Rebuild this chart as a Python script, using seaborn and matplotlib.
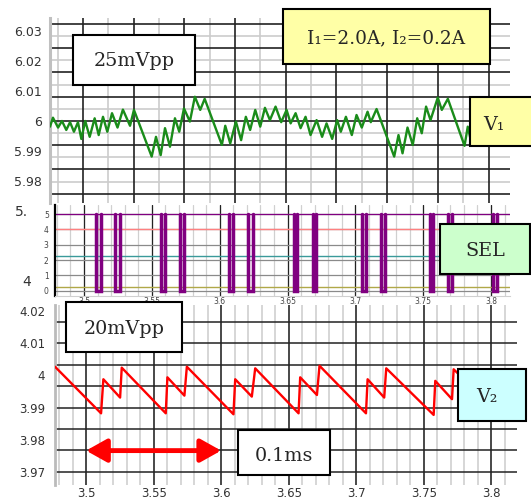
import numpy as np
import pandas as pd
import seaborn as sns
import matplotlib.pyplot as plt
from matplotlib.patches import Rectangle

# ------------------------------
# data (time in ms)
# ------------------------------
v1_t = [3.4770, 3.4792, 3.4830, 3.4859, 3.4891, 3.4919, 3.4948, 3.4978, 3.5003, 3.5032,
        3.5065, 3.5102, 3.5132, 3.5164, 3.5196, 3.5231, 3.5272, 3.5312, 3.5365, 3.5394,
        3.5526, 3.5558, 3.5593, 3.5625, 3.5662, 3.5699, 3.5731, 3.5766, 3.5810, 3.5847,
        3.5887, 3.5920, 3.6048, 3.6073, 3.6110, 3.6152, 3.6191, 3.6226, 3.6258, 3.6296,
        3.6333, 3.6368, 3.6405, 3.6447, 3.6489, 3.6529, 3.6559, 3.6596, 3.6633, 3.6670,
        3.6707, 3.6752, 3.6793, 3.6826, 3.6868, 3.6905, 3.6932, 3.6970, 3.7014, 3.7049,
        3.7088, 3.7131, 3.7155, 3.7198, 3.7329, 3.7361, 3.7391, 3.7428, 3.7467, 3.7500,
        3.7534, 3.7566, 3.7599, 3.7653, 3.7683, 3.7728, 3.7852, 3.7876, 3.7906]
v1_v = [5.9981, 6.0011, 5.9978, 6.0000, 5.9970, 5.9996, 5.9964, 5.9996, 5.9940, 6.0000,
        5.9947, 6.0009, 5.9953, 6.0014, 5.9964, 6.0026, 5.9978, 6.0038, 5.9984, 6.0037,
        5.9881, 5.9947, 5.9886, 5.9976, 5.9914, 6.0009, 5.9964, 6.0042, 5.9998, 6.0081,
        6.0037, 6.0074, 5.9920, 5.9984, 5.9925, 5.9998, 5.9936, 6.0014, 5.9970, 6.0037,
        5.9981, 6.0044, 6.0003, 6.0048, 5.9996, 6.0037, 5.9992, 6.0026, 5.9976, 6.0014,
        5.9953, 6.0003, 5.9947, 5.9992, 5.9940, 6.0003, 5.9964, 6.0014, 5.9953, 6.0020,
        5.9978, 6.0031, 5.9996, 6.0040, 5.9881, 5.9953, 5.9892, 5.9978, 5.9920, 6.0009,
        5.9959, 6.0048, 6.0003, 6.0078, 6.0037, 6.0074, 5.9917, 5.9981, 5.9920]

v2_t = [3.4770, 3.5111, 3.5128, 3.5252, 3.5264, 3.5590, 3.5602, 3.5728, 3.5746, 3.6091,
        3.6104, 3.6227, 3.6252, 3.6573, 3.6585, 3.6709, 3.6728, 3.7072, 3.7084, 3.7207,
        3.7222, 3.7573, 3.7585, 3.7709, 3.7721, 3.8060]
v2_v = [4.0027, 3.9882, 3.9988, 3.9931, 4.0024, 3.9882, 3.9994, 3.9937, 4.0027, 3.9879,
        3.9988, 3.9934, 4.0022, 3.9882, 3.9994, 3.9939, 4.0030, 3.9882, 3.9988, 3.9931,
        4.0022, 3.9877, 3.9983, 3.9926, 4.0019, 3.9880]

# SEL drops from 5 to 0 between start and end
sel_start = [3.5089, 3.5229, 3.5569, 3.5710, 3.6072, 3.6205, 3.6545, 3.6685, 3.7047,
             3.7188, 3.7550, 3.7683, 3.8016]
sel_end = [3.5123, 3.5266, 3.5599, 3.5739, 3.6101, 3.6242, 3.6567, 3.6707, 3.7076,
           3.7217, 3.7572, 3.7712, 3.8045]
sel_high = 5
sel_low = 0

# the other (flat) channels in the SEL window
chan_level = [4, 2.27, 0.22]
chan_color = ['#ff8080', '#3a9a9a', '#b0a848']

v1_ticks = [6.03, 6.02, 6.01, 6.0, 5.99, 5.98]
v1_ticklabels = ['6.03', '6.02', '6.01', '6', '5.99', '5.98']
v2_ticks = [4.02, 4.01, 4.0, 3.99, 3.98, 3.97]
v2_ticklabels = ['4.02', '4.01', '4', '3.99', '3.98', '3.97']
t_ticks = [3.5, 3.55, 3.6, 3.65, 3.7, 3.75, 3.8]
t_ticklabels = ['3.5', '3.55', '3.6', '3.65', '3.7', '3.75', '3.8']
sel_ticks = [0, 1, 2, 3, 4, 5]
arrow_span = [3.5, 3.6]
arrow_level = 3.9766

# ------------------------------
# figure
# ------------------------------
sns.set_style("white")
plt.rcParams['font.family'] = ['DejaVu Sans']

W, H = 531, 504
fig = plt.figure(figsize=(W / 100, H / 100), dpi=100)


def px_axes(x0, y0, x1, y1):
    return fig.add_axes([x0 / W, 1 - y1 / H, (x1 - x0) / W, (y1 - y0) / H])


ax1 = px_axes(50, 18, 510, 203)
ax2 = px_axes(55, 205, 510, 296)
ax3 = px_axes(55, 305, 517, 485)

DARK = '#222222'
LIGHT = '#cccccc'

# --- top panel: V1 ---
ax1.set_xlim(3.477, 3.819)
ax1.set_ylim(5.9726, 6.0344)
gx = 3.5015 + 0.0377 * np.arange(-1, 9)
for x in gx:
    ax1.axvline(x, color=DARK, lw=1.2, zorder=1)
    ax1.axvline(x + 0.0377 / 2, color=LIGHT, lw=1.2, zorder=0)
gy = 6.0 + 0.0081 * np.arange(-4, 5)
for y in gy:
    ax1.axhline(y, color=DARK, lw=1.2, zorder=1)
    ax1.axhline(y + 0.0081 / 2, color=LIGHT, lw=1.2, zorder=0)
sns.lineplot(x=v1_t, y=v1_v, ax=ax1, color='#1a8c1a', lw=1.7, sort=False,
             estimator=None, zorder=3)
ax1.set_yticks(v1_ticks, v1_ticklabels)
ax1.set_xticks([])
ax1.tick_params(axis='y', length=0, pad=6, labelsize=9, labelcolor='#333333')
for s in ['top', 'right', 'bottom']:
    ax1.spines[s].set_visible(False)
ax1.spines['left'].set_color('#c0c0c0')
ax1.spines['left'].set_linewidth(2.2)

# --- middle panel: SEL ---
ax2.set_xlim(3.4786, 3.814)
ax2.set_ylim(-0.35, 5.6)
for x in np.arange(3.48, 3.815, 0.01):
    ax2.axvline(x, color='#d0d0d0', lw=0.9, zorder=0)
for x in t_ticks:
    ax2.axvline(x, color=DARK, lw=0.9, zorder=1)
for y in sel_ticks:
    ax2.axhline(y, color='#8a8a8a', lw=0.9, zorder=1)
for lev, c in zip(chan_level, chan_color):
    ax2.axhline(lev, color=c, lw=1.0, zorder=2)
ax2.axhline(sel_high, color='#800080', lw=0.9, zorder=2)
for s, e in zip(sel_start, sel_end):
    ax2.plot([s, s, e, e], [sel_high, sel_low, sel_low, sel_high],
             color='#800080', lw=2.5, zorder=3, solid_joinstyle='miter')
ax2.set_xticks(t_ticks, t_ticklabels)
ax2.set_yticks(sel_ticks)
ax2.tick_params(labelsize=5.5, labelcolor='#444444', length=3, width=0.6,
                color='#444444', pad=1.5)
ax2.tick_params(axis='x', length=0, pad=1)
for s in ['top', 'right']:
    ax2.spines[s].set_visible(False)
ax2.spines['bottom'].set_color('#d0d0d0')
ax2.spines['left'].set_color('black')
ax2.spines['left'].set_linewidth(1.6)

# --- bottom panel: V2 ---
ax3.set_xlim(3.477, 3.819)
ax3.set_ylim(3.9659, 4.0219)
for x in np.arange(3.48, 3.82, 0.01):
    ax3.axvline(x, color=LIGHT, lw=1.1, zorder=0)
for x in t_ticks:
    ax3.axvline(x, color=DARK, lw=1.1, zorder=1)
for y in 4.01 - 0.02 / 3 * np.arange(-1, 7):
    ax3.axhline(y, color=DARK, lw=1.1, zorder=1)
sns.lineplot(x=v2_t, y=v2_v, ax=ax3, color='red', lw=1.7, sort=False,
             estimator=None, zorder=3)
ax3.annotate('', xy=(arrow_span[0], arrow_level), xytext=(arrow_span[1], arrow_level),
             arrowprops=dict(arrowstyle='<|-|>,head_length=1.25,head_width=0.7',
                             mutation_scale=10, color='red', lw=3.5,
                             shrinkA=0, shrinkB=0), zorder=4)
ax3.set_xticks(t_ticks, t_ticklabels)
ax3.set_yticks(v2_ticks, v2_ticklabels)
ax3.tick_params(labelsize=8.5, labelcolor='#333333', length=4, color='#888888', pad=3)
ax3.tick_params(axis='x', length=0, pad=1.5)
for s in ['top', 'right', 'bottom']:
    ax3.spines[s].set_visible(False)
ax3.spines['left'].set_color('#bbbbbb')
ax3.spines['left'].set_linewidth(2)

# leftovers of the scope's own axis labels
fig.text(22 / W, 1 - 212 / H, '5.', fontsize=10, color='#333333', ha='center', va='center')
fig.text(27 / W, 1 - 282 / H, '4', fontsize=10, color='#333333', ha='center', va='center')


# ------------------------------
# labels in boxes
# ------------------------------
def label_box(x0, y0, x1, y1, face, text, tx, ty, size=13.8):
    fig.patches.append(Rectangle((x0 / W, 1 - y1 / H), (x1 - x0) / W, (y1 - y0) / H,
                                 transform=fig.transFigure, facecolor=face,
                                 edgecolor='black', lw=1.5, zorder=10))
    fig.text(tx / W, 1 - ty / H, text, fontsize=size, family='DejaVu Serif',
             ha='center', va='center', zorder=11)


label_box(73, 35, 195, 85, 'white', '25mVpp', 134, 61)
label_box(283, 9, 490, 64, '#ffffa6', 'I₁=2.0A, I₂=0.2A', 386, 38, 13.3)
label_box(470, 97, 540, 146, '#ffffa6', 'V₁', 494, 125)
label_box(440, 224, 530, 274, '#ccffcc', 'SEL', 485, 251)
label_box(66, 302, 182, 352, 'white', '20mVpp', 124, 329)
label_box(458, 369, 526, 421, '#ccffff', 'V₂', 487, 397)
label_box(238, 430, 330, 475, 'white', '0.1ms', 284, 456)

fig.savefig('out.png', dpi=100)
